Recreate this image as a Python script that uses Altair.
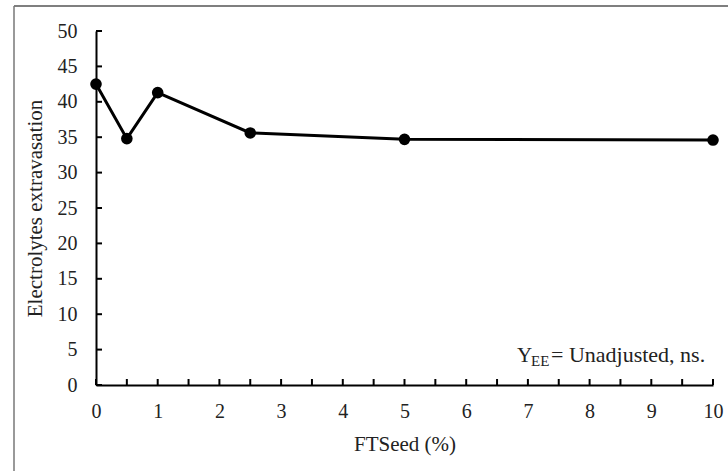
import altair as alt
import pandas as pd

# FTSeed dose (%) and measured electrolyte extravasation
ftseed = [0, 0.5, 1, 2.5, 5, 10]
extravasation = [42.5, 34.8, 41.3, 35.6, 34.7, 34.6]

x_label_values = list(range(0, 11))
x_tick_values = [i * 0.5 for i in range(0, 21)]
y_values = list(range(0, 51, 5))

annotation_main = ["Y"]
annotation_sub = ["EE"]
annotation_rest = ["= Unadjusted, ns."]

FONT = "Liberation Serif"
W, H = 617, 354
TICK = 6

df = pd.DataFrame({"x": ftseed, "y": extravasation})

xscale = alt.Scale(domain=[0, 10], nice=False, zero=False)
yscale = alt.Scale(domain=[0, 50], nice=False)

base = alt.Chart(df)

line = base.mark_line(color="black", strokeWidth=3).encode(
    x=alt.X("x:Q", scale=xscale, axis=alt.Axis(
        values=x_label_values, ticks=False, grid=False, domain=True,
        domainColor="black", domainWidth=2, labelFont=FONT, labelFontSize=20,
        labelColor="#222", labelPadding=16, labelFlush=False, format="d",
        title="FTSeed (%)",
        titleFont=FONT, titleFontSize=21, titleFontWeight="normal",
        titleColor="#222", titlePadding=12)),
    y=alt.Y("y:Q", scale=yscale, axis=alt.Axis(
        values=y_values, ticks=False, grid=False, domain=True,
        domainColor="black", domainWidth=2, labelFont=FONT, labelFontSize=20,
        labelColor="#222", labelPadding=19, labelFlush=False, format="d",
        title="Electrolytes extravasation",
        titleFont=FONT, titleFontSize=21, titleFontWeight="normal",
        titleColor="#222", titlePadding=12)),
)

points = base.mark_point(filled=True, size=135, color="black", opacity=1).encode(
    x=alt.X("x:Q", scale=xscale, axis=None),
    y=alt.Y("y:Q", scale=yscale, axis=None),
)

# Inward-pointing tick marks along both axes
x_ticks = alt.Chart(pd.DataFrame({"v": x_tick_values})).mark_rule(
    color="black", strokeWidth=2
).encode(x=alt.X("v:Q", scale=xscale, axis=None), y=alt.value(H - TICK), y2=alt.value(H))

y_ticks = alt.Chart(pd.DataFrame({"v": y_values})).mark_rule(
    color="black", strokeWidth=2
).encode(y=alt.Y("v:Q", scale=yscale, axis=None), x=alt.value(0), x2=alt.value(TICK))

t_main = alt.Chart(pd.DataFrame({"t": annotation_main})).mark_text(
    font=FONT, fontSize=21, align="left", baseline="alphabetic", color="#222"
).encode(text="t:N", x=alt.value(421), y=alt.value(331))

t_sub = alt.Chart(pd.DataFrame({"t": annotation_sub})).mark_text(
    font=FONT, fontSize=15, align="left", baseline="alphabetic", color="#222"
).encode(text="t:N", x=alt.value(435), y=alt.value(335))

t_rest = alt.Chart(pd.DataFrame({"t": annotation_rest})).mark_text(
    font=FONT, fontSize=22, align="left", baseline="alphabetic", color="#222"
).encode(text="t:N", x=alt.value(455), y=alt.value(331))

# Outer frame: only the top and left edges fall inside the page
frame_top = alt.Chart(pd.DataFrame({"k": [0]})).mark_rule(
    color="#555", strokeWidth=1.5, clip=False
).encode(x=alt.value(-82), x2=alt.value(W + 400), y=alt.value(-25))

frame_left = alt.Chart(pd.DataFrame({"k": [0]})).mark_rule(
    color="#777", strokeWidth=1.5, clip=False
).encode(x=alt.value(-82), y=alt.value(-25), y2=alt.value(H + 400))

chart = alt.layer(
    frame_top, frame_left, line, x_ticks, y_ticks, points, t_main, t_sub, t_rest
).resolve_axis(
    x="independent", y="independent"
).properties(
    width=W, height=H,
    autosize=alt.AutoSizeParams(type="none"),
    padding={"left": 96, "top": 31, "right": 728 - 96 - W, "bottom": 471 - 31 - H},
    background="white",
).configure_view(stroke=None)

chart.save("out.html", embed_options={"renderer": "svg", "actions": False})
